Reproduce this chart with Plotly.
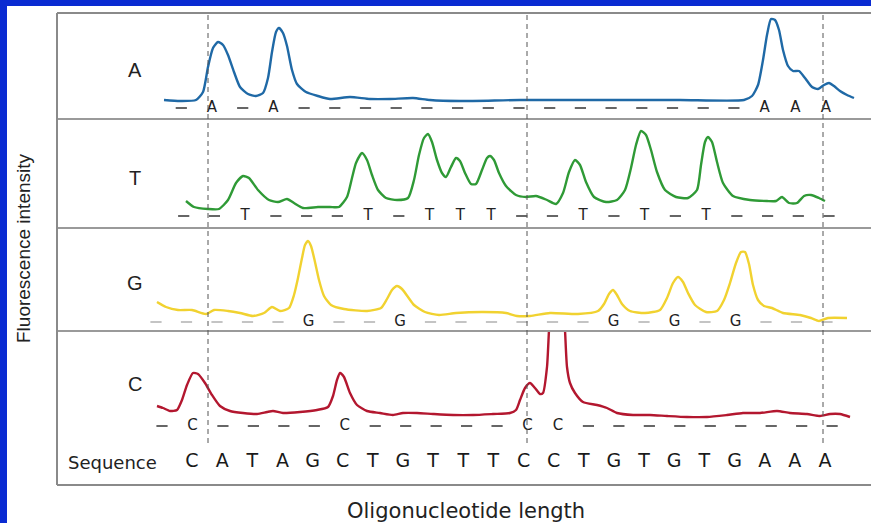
import plotly.graph_objects as go

# ---------------- data (x = electrophoresis scan units, y = fluorescence) ----------------
sequence = "CATAGCTGTTTCCTGTGTGAAA"

A_scan = [107, 123, 139, 146, 151, 156, 161, 166, 171, 177, 183, 191, 199, 206, 211, 215, 219, 222,
          226, 230, 235, 240, 249, 261, 273, 293, 313, 333, 356, 373, 403, 463, 543, 623, 687, 695,
          701, 706, 710, 714, 718, 722, 726, 731, 736, 742, 748, 755, 761, 767, 772, 777, 783, 790, 797]
A_int = [19, 18, 19, 27, 52, 71, 77, 74, 64, 47, 32, 25, 23, 26, 41, 67, 87, 91,
         86, 73, 49, 35, 27, 23, 20, 22, 20, 20, 21, 19, 18, 19, 19, 19, 19, 23,
         34, 59, 84, 100, 99, 89, 69, 53, 48, 48, 41, 32, 30, 34, 36, 33, 28, 24, 21]

T_scan = [129, 137, 151, 162, 171, 179, 186, 192, 201, 212, 221, 230, 237, 246, 261, 273, 282, 290,
          295, 299, 305, 310, 315, 321, 329, 340, 351, 357, 362, 367, 371, 375, 380, 385, 389, 394,
          399, 403, 408, 414, 419, 425, 430, 433, 437, 442, 449, 459, 469, 479, 490, 499, 506, 512,
          518, 523, 529, 537, 549, 560, 568, 574, 579, 584, 589, 594, 600, 608, 619, 631, 640, 644,
          648, 651, 655, 660, 666, 676, 693, 710, 719, 725, 732, 740, 747, 754, 762, 768]
T_int = [27, 21, 19, 19, 28, 45, 52, 50, 38, 28, 26, 29, 25, 20, 21, 21, 21, 31,
         50, 65, 75, 68, 53, 38, 30, 28, 30, 48, 73, 90, 94, 86, 68, 55, 51, 61,
         70, 67, 55, 44, 44, 58, 70, 72, 68, 55, 42, 33, 31, 32, 28, 24, 35, 56,
         68, 63, 46, 31, 26, 28, 38, 60, 83, 97, 93, 78, 56, 38, 31, 30, 38, 63,
         86, 91, 86, 66, 45, 32, 28, 27, 27, 31, 25, 25, 32, 33, 30, 27]

G_scan = [100, 109, 121, 135, 149, 157, 171, 183, 196, 207, 215, 223, 232, 237, 241, 245, 248, 251,
          254, 258, 262, 267, 274, 287, 310, 324, 330, 335, 340, 345, 351, 357, 368, 382, 399, 426,
          449, 460, 473, 493, 521, 541, 547, 552, 556, 560, 565, 573, 588, 603, 610, 616, 621, 626,
          631, 638, 649, 660, 667, 673, 679, 684, 688, 692, 696, 701, 707, 715, 726, 743, 754, 762,
          771, 790]
G_int = [29, 24, 21, 21, 17, 21, 20, 18, 15, 18, 24, 20, 23, 36, 53, 73, 86, 90,
         85, 69, 51, 35, 26, 22, 20, 23, 32, 41, 45, 42, 34, 26, 19, 16, 18, 19,
         18, 15, 15, 18, 17, 20, 27, 37, 41, 36, 27, 20, 18, 21, 33, 48, 54, 49,
         38, 26, 19, 20, 31, 48, 68, 79, 79, 67, 46, 31, 25, 23, 18, 16, 13, 10,
         13, 13]

C_scan = [100, 106, 113, 120, 125, 130, 136, 141, 148, 155, 163, 173, 186, 200, 210, 216, 226, 243,
          260, 271, 276, 280, 283, 287, 293, 300, 310, 323, 336, 346, 360, 376, 396, 416, 436, 453,
          459, 463, 468, 473, 478, 483, 486, 490, 492, 495, 500, 505, 508, 510, 513, 518, 526, 540,
          550, 560, 576, 593, 610, 630, 650, 670, 686, 703, 720, 733, 750, 763, 773, 783, 793]
C_int = [79, 77, 74, 75, 85, 100, 112, 111, 102, 90, 79, 74, 72, 71, 73, 74, 72, 73,
         75, 78, 89, 105, 112, 108, 92, 80, 74, 72, 70, 72, 72, 71, 70, 70, 71, 72,
         75, 85, 97, 102, 97, 91, 92, 118, 155, 205, 235, 205, 155, 118, 102, 92, 83, 80,
         77, 72, 70, 70, 69, 68, 68, 70, 72, 72, 74, 72, 71, 69, 71, 71, 68]

# base-call rows: scan of first mark, scan step between marks, first index (0 = leading dash)
A_calls = (124.3, 30.7, 1)
T_calls = (126.7, 30.73, 1)
G_calls = (99.0, 30.5, 0)
C_calls = (105.0, 30.46, 0)
seq_row = (135.0, 30.14)

# row levels (fluorescence units on each panel)
A_row_y, T_row_y, G_row_y, C_row_y, seq_y = 11, 12, 9, 59, 23

guide_scans = [151, 470, 766]

panels = ["A", "T", "G", "C"]
colors = {"A": "#1f69a6", "T": "#2f9a36", "G": "#f1d230", "C": "#b3172f"}

# ---------------- layout geometry (pixels) ----------------
W, H = 871, 523
LEFT = 57
TOP = 13
SEPS = [119, 228, 331]
BOTTOM = 485


def px(x):
    return x / W


def py(y):
    return 1 - y / H


fig = go.Figure()

series = {"A": (A_scan, A_int), "T": (T_scan, T_int), "G": (G_scan, G_int), "C": (C_scan, C_int)}
calls = {"A": A_calls, "T": T_calls, "G": G_calls, "C": C_calls}
rows_y = {"A": A_row_y, "T": T_row_y, "G": G_row_y, "C": C_row_y}
axes = {"A": "y", "T": "y2", "G": "y3", "C": "y4"}
dash_colors = {"A": "#333333", "T": "#333333", "G": "#b0b0b0", "C": "#333333"}

for b in panels:
    xs, ys = series[b]
    fig.add_trace(go.Scatter(x=xs, y=ys, xaxis="x", yaxis=axes[b], mode="lines",
                             line=dict(color=colors[b], width=2.4, shape="spline", smoothing=0.6),
                             hoverinfo="skip"))
    start, step, first = calls[b]
    lx, dx = [], []
    for n in range(first, len(sequence) + 1):
        s = start + (n - first) * step
        if n >= 1 and sequence[n - 1] == b:
            lx.append(s)
        else:
            dx.append(s)
    fig.add_trace(go.Scatter(x=dx, y=[rows_y[b]] * len(dx), xaxis="x", yaxis=axes[b], mode="markers",
                             marker=dict(symbol="line-ew", size=8, color=dash_colors[b],
                                         line=dict(width=1.5, color=dash_colors[b])),
                             cliponaxis=False, hoverinfo="skip"))
    fig.add_trace(go.Scatter(x=lx, y=[rows_y[b]] * len(lx), xaxis="x", yaxis=axes[b], mode="text",
                             text=[b] * len(lx), textposition="middle center",
                             textfont=dict(family="DejaVu Sans", size=15, color="#222222"),
                             cliponaxis=False, hoverinfo="skip"))

# sequence row
s0, sstep = seq_row
fig.add_trace(go.Scatter(x=[s0 + i * sstep for i in range(len(sequence))], y=[seq_y] * len(sequence),
                         xaxis="x", yaxis="y4", mode="text", text=list(sequence),
                         textposition="middle center",
                         textfont=dict(family="DejaVu Sans", size=19, color="#1a1a1a"),
                         cliponaxis=False, hoverinfo="skip"))

shapes = []
# blue frame
shapes.append(dict(type="rect", xref="paper", yref="paper", x0=0, x1=1, y0=py(6), y1=1,
                   fillcolor="#0a2bd2", line=dict(width=0), layer="above"))
shapes.append(dict(type="rect", xref="paper", yref="paper", x0=0, x1=px(7), y0=0, y1=1,
                   fillcolor="#0a2bd2", line=dict(width=0), layer="above"))
# chart box lines
for yy in [TOP, BOTTOM]:
    shapes.append(dict(type="line", xref="paper", yref="paper", x0=px(LEFT), x1=1, y0=py(yy), y1=py(yy),
                       line=dict(color="#8a8a8a", width=2)))
for yy in SEPS:
    shapes.append(dict(type="line", xref="paper", yref="paper", x0=px(LEFT), x1=1, y0=py(yy), y1=py(yy),
                       line=dict(color="#9a9a9a", width=2)))
shapes.append(dict(type="line", xref="paper", yref="paper", x0=px(LEFT), x1=px(LEFT), y0=py(BOTTOM), y1=py(TOP),
                   line=dict(color="#8a8a8a", width=2)))
# dashed guides
for g in guide_scans:
    shapes.append(dict(type="line", xref="x", yref="paper", x0=g, x1=g, y0=py(443), y1=py(TOP),
                       line=dict(color="#555555", width=1, dash="5px,4px")))

annotations = []
label_y = {"A": 70, "T": 178, "G": 283, "C": 384}
for b in panels:
    annotations.append(dict(text=b, xref="paper", yref="paper", x=px(135), y=py(label_y[b]),
                            showarrow=False, xanchor="center", yanchor="middle",
                            font=dict(family="Liberation Sans", size=20, color="#222222")))
annotations.append(dict(text="Sequence", xref="paper", yref="paper", x=px(112), y=py(462),
                        showarrow=False, xanchor="center", yanchor="middle",
                        font=dict(family="DejaVu Sans", size=18, color="#222222")))
annotations.append(dict(text="Fluorescence intensity", xref="paper", yref="paper", x=px(23), y=py(248),
                        showarrow=False, xanchor="center", yanchor="middle", textangle=-90,
                        font=dict(family="Liberation Sans", size=19, color="#222222")))
annotations.append(dict(text="Oligonucleotide length", xref="paper", yref="paper", x=px(466), y=py(511),
                        showarrow=False, xanchor="center", yanchor="middle",
                        font=dict(family="DejaVu Sans", size=21, color="#222222")))

ax_common = dict(visible=False, fixedrange=True, anchor="x")
fig.update_layout(
    width=W, height=H, margin=dict(l=0, r=0, t=0, b=0),
    paper_bgcolor="white", plot_bgcolor="rgba(0,0,0,0)", showlegend=False,
    xaxis=dict(domain=[px(LEFT), 1], range=[0, W - LEFT], visible=False, fixedrange=True),
    yaxis=dict(domain=[py(SEPS[0]), py(TOP)], range=[0, SEPS[0] - TOP], **ax_common),
    yaxis2=dict(domain=[py(SEPS[1]), py(SEPS[0])], range=[0, SEPS[1] - SEPS[0]], **ax_common),
    yaxis3=dict(domain=[py(SEPS[2]), py(SEPS[1])], range=[0, SEPS[2] - SEPS[1]], **ax_common),
    yaxis4=dict(domain=[py(BOTTOM), py(SEPS[2])], range=[0, BOTTOM - SEPS[2]], **ax_common),
    shapes=shapes, annotations=annotations,
)

fig.write_html("out.html", config={"displayModeBar": False},
               post_script="document.body.style.margin='0px';document.body.style.overflow='hidden';")
